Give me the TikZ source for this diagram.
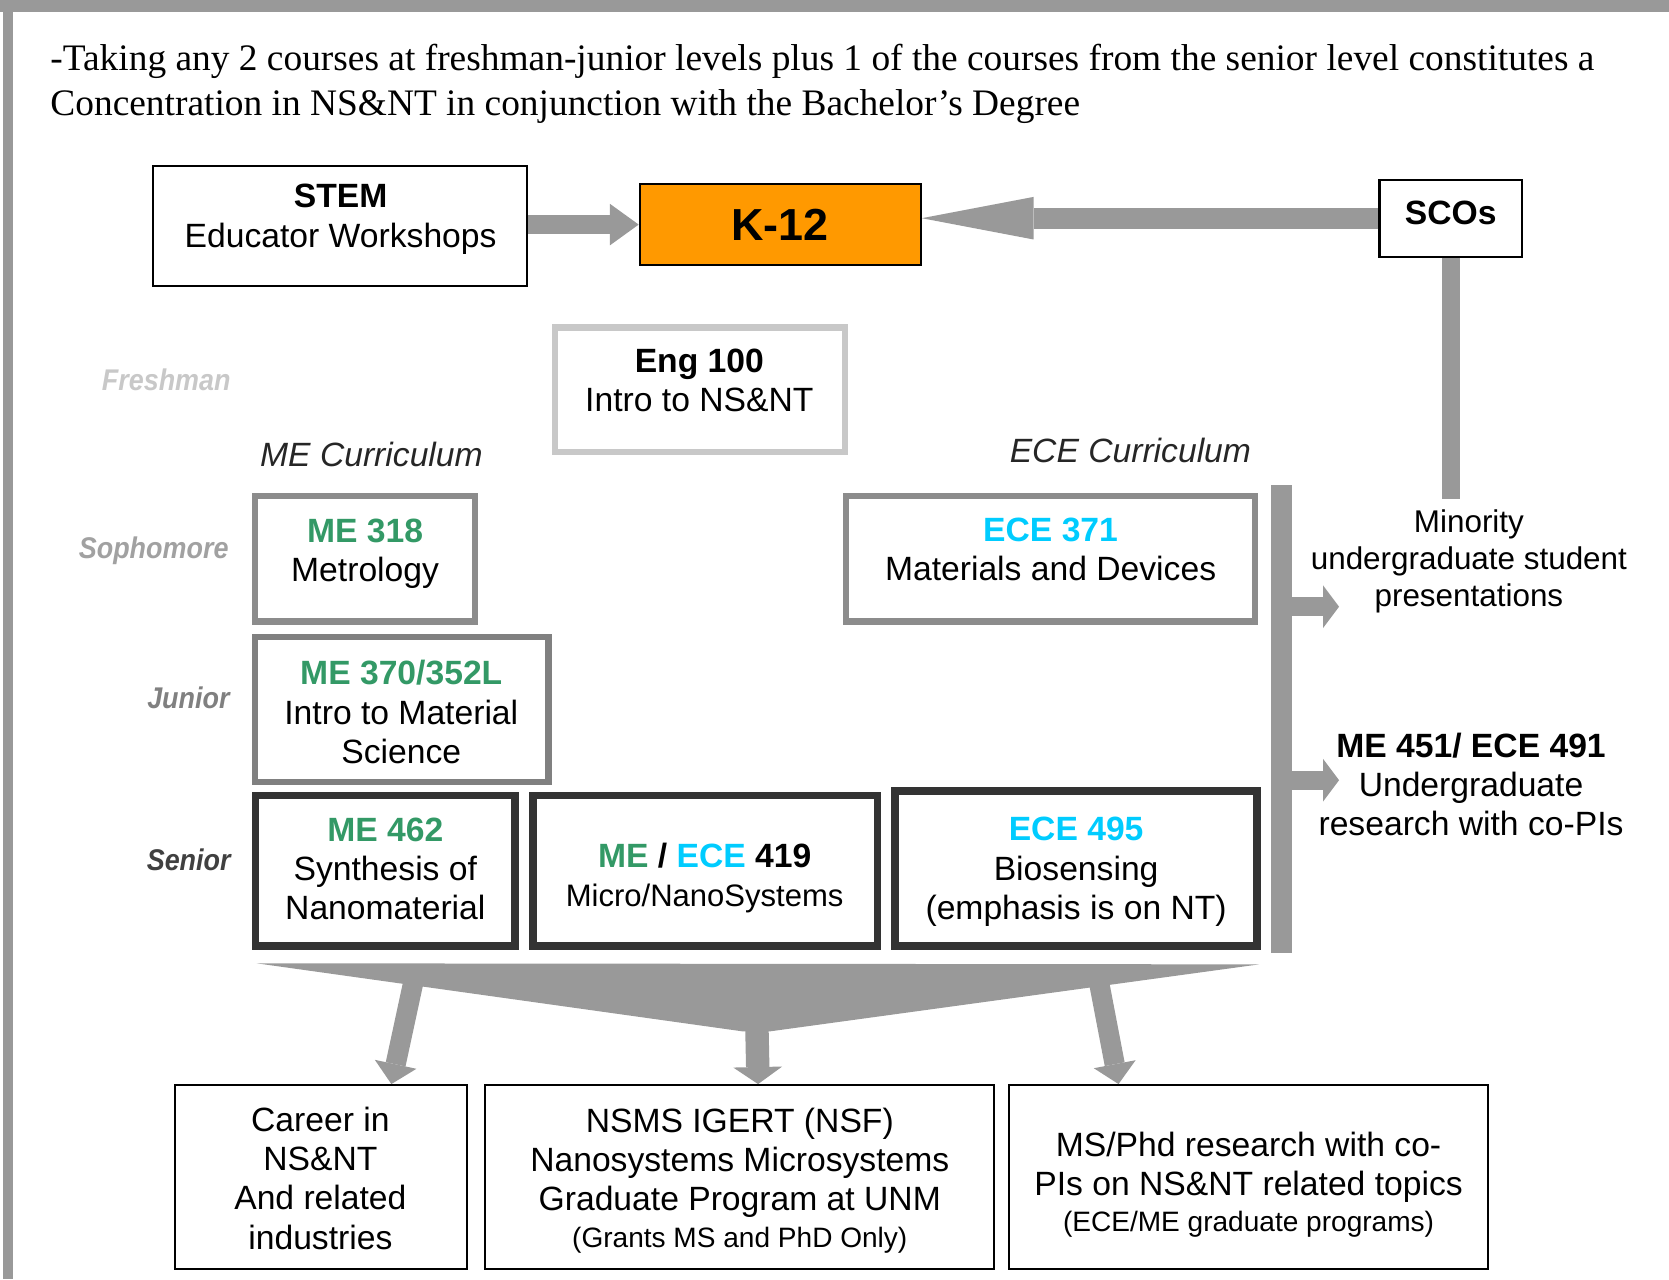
\documentclass[tikz,border=0pt]{standalone}
\usepackage{fontspec}
\setmainfont{Liberation Serif}
\setsansfont{Liberation Sans}
\newfontfamily\levelfont{Liberation Sans}[FakeStretch=0.9]
\usetikzlibrary{arrows.meta}

\definecolor{megreen}{RGB}{51,153,102}
\definecolor{ececyan}{RGB}{0,204,255}
\definecolor{korange}{RGB}{255,153,0}
\definecolor{bargray}{RGB}{153,153,153}
\definecolor{freshgray}{RGB}{200,200,200}
\definecolor{sophgray}{RGB}{140,140,140}
\definecolor{jungray}{RGB}{128,128,128}
\definecolor{sengray}{RGB}{51,51,51}

\begin{document}
\begin{tikzpicture}[x=0.02cm, y=-0.02cm,
  box/.style={draw=black, line width=0.04cm, inner sep=0pt},
  freshbox/.style={box, draw=freshgray, line width=0.12cm},
  sophbox/.style={box, draw=sophgray, line width=0.12cm},
  junbox/.style={box, draw=jungray, line width=0.12cm},
  senbox/.style={box, draw=sengray, line width=0.14cm},
  txt/.style={align=center, inner sep=0pt, font=\sffamily\fontsize{18}{21}\selectfont},
  level/.style={anchor=east, inner sep=0pt, font=\levelfont\bfseries\itshape\fontsize{16}{19}\selectfont},
  curric/.style={inner sep=0pt, text=black!85, font=\sffamily\itshape\fontsize{18}{21}\selectfont},
  sidearrow/.style={bargray, line width=0.36cm, -{Triangle[length=0.3cm, width=0.8cm, line width=0pt]}},
  funarrow/.style={bargray, line width=0.38cm, -{Triangle[length=0.38cm, width=0.8cm, line width=0pt]}}]

\useasboundingbox (0,0) rectangle (1568,1202);
\fill[bargray] (0,0) rectangle (1568,11);
\fill[bargray] (3,0) rectangle (12,1202);

\node[anchor=north west, align=left, inner sep=0pt, font=\rmfamily\fontsize{20}{24}\selectfont] (intro) at (47,41)
  {-Taking any 2 courses at freshman-junior levels plus 1 of the courses from the senior level constitutes a\\
   Concentration in NS\&NT in conjunction with the Bachelor’s Degree};

% outreach row
\node[box, minimum width=7.02cm, minimum height=2.26cm] (stem) at (319.5,212.5) {};
\node[txt] (stemtext) at (320,206) {\textbf{STEM}\\Educator Workshops};
\node[box, fill=korange, minimum width=5.28cm, minimum height=1.52cm] (k12) at (733,211) {};
\node[txt, font=\sffamily\bfseries\fontsize{24}{28}\selectfont] (k12text) at (733,211) {K-12};
\node[box, minimum width=2.68cm, minimum height=1.45cm] (scos) at (1363,205) {};
\node[txt] (scostext) at (1363,200) {\textbf{SCOs}};

\draw[bargray, line width=0.36cm, -{Triangle[length=0.54cm, width=0.78cm, line width=0pt]}] (stem.east |- k12) -- (k12.west);
\draw[bargray, line width=0.4cm, -{Triangle[length=2.1cm, width=0.8cm, line width=0pt]}] (scos.west) -- (k12.east |- scos.west);

% year labels
\node[level, text=freshgray] (freshman) at (217,357) {Freshman};
\node[level, text=black!37] (sophomore) at (215,517) {Sophomore};
\node[level, text=black!50] (junior) at (216,656) {Junior};
\node[level, text=black!75] (senior) at (217,808) {Senior};

\node[curric] (mecur) at (349,427) {ME Curriculum};
\node[curric] (ececur) at (1062,423) {ECE Curriculum};

% courses
\node[freshbox, minimum width=5.44cm, minimum height=2.34cm] (eng) at (657.6,366) {};
\node[txt] (engtext) at (657,357.5) {\textbf{Eng 100}\\Intro to NS\&NT};

\node[sophbox, minimum width=4.14cm, minimum height=2.36cm] (me318) at (343,525) {};
\node[txt] (me318text) at (343,520) {\textbf{\textcolor{megreen}{ME 318}}\\Metrology};
\node[sophbox, minimum width=7.68cm, minimum height=2.36cm] (ece371) at (987,525) {};
\node[txt] (ece371text) at (987,516.5) {\textbf{\textcolor{ececyan}{ECE 371}}\\Materials and Devices};

\node[junbox, minimum width=5.52cm, minimum height=2.72cm] (me370) at (377.5,666.5) {};
\node[txt] (me370text) at (377,669) {\textbf{\textcolor{megreen}{ME 370/352L}}\\Intro to Material\\Science};

\node[senbox, minimum width=4.88cm, minimum height=2.83cm] (me462) at (362,818) {};
\node[txt] (me462text) at (362,816.5) {\textbf{\textcolor{megreen}{ME 462}}\\Synthesis of\\Nanomaterial};
\node[senbox, minimum width=6.48cm, minimum height=2.83cm] (me419) at (662.5,818) {};
\node[txt] (me419text) at (662,825) {\textbf{\textcolor{megreen}{ME} / \textcolor{ececyan}{ECE} 419}\\{\fontsize{16.6}{19}\selectfont Micro/NanoSystems}};
\node[senbox, minimum width=6.8cm, minimum height=2.91cm] (ece495) at (1011,816) {};
\node[txt] (ece495text) at (1011,819) {\textbf{\textcolor{ececyan}{ECE 495}}\\Biosensing\\(emphasis is on NT)};

% student activities
\coordinate (bartop) at (1204,456);
\coordinate (barbot) at (1204,895);
\draw[bargray, line width=0.4cm] (bartop) -- (barbot);

\node[txt, font=\sffamily\fontsize{16.8}{19.8}\selectfont] (minority) at (1380,527) {Minority\\undergraduate student\\presentations};
\node[txt] (research) at (1382,737) {\textbf{ME 451/ ECE 491}\\Undergraduate\\research with co-PIs};

\draw[bargray, line width=0.34cm] (scos.south) -- (scos.south |- 0,469);

\coordinate (prestip) at (1258,570);
\coordinate (restip) at (1258,733);
\draw[sidearrow] (bartop |- prestip) -- (prestip);
\draw[sidearrow] (bartop |- restip) -- (restip);

% outcomes
\node[box, minimum width=5.48cm, minimum height=3.45cm] (career) at (301.7,1105.7) {};
\node[txt] (careertext) at (301,1107) {Career in\\NS\&NT\\And related\\industries};
\node[box, minimum width=9.56cm, minimum height=3.45cm] (nsms) at (694.7,1105.7) {};
\node[txt] (nsmstext) at (695,1109) {NSMS IGERT (NSF)\\Nanosystems Microsystems\\Graduate Program at UNM\\[-1.5pt]{\fontsize{15}{17}\selectfont (Grants MS and PhD Only)}};
\node[box, minimum width=9cm, minimum height=3.45cm] (msphd) at (1172.8,1105.7) {};
\node[txt] (msphdtext) at (1173,1113) {MS/Phd research with co-\\PIs on NS\&NT related topics\\[-1.5pt]{\fontsize{15}{17}\selectfont (ECE/ME graduate programs)}};

\fill[bargray] (241,905) -- (1183,906) -- (723,969) -- (698,969) -- cycle;
\coordinate (lstart) at (390,915);
\coordinate (mstart) at (711,960);
\coordinate (rstart) at (1031,915);
\draw[funarrow] (lstart) -- ([xshift=1.32cm]career.north);
\draw[bargray, line width=0.44cm, -{Triangle[length=0.32cm, width=0.92cm, line width=0pt]}] (mstart) -- ([xshift=0.35cm]nsms.north);
\draw[funarrow] (rstart) -- ([xshift=-2.44cm]msphd.north);

\end{tikzpicture}
\end{document}
